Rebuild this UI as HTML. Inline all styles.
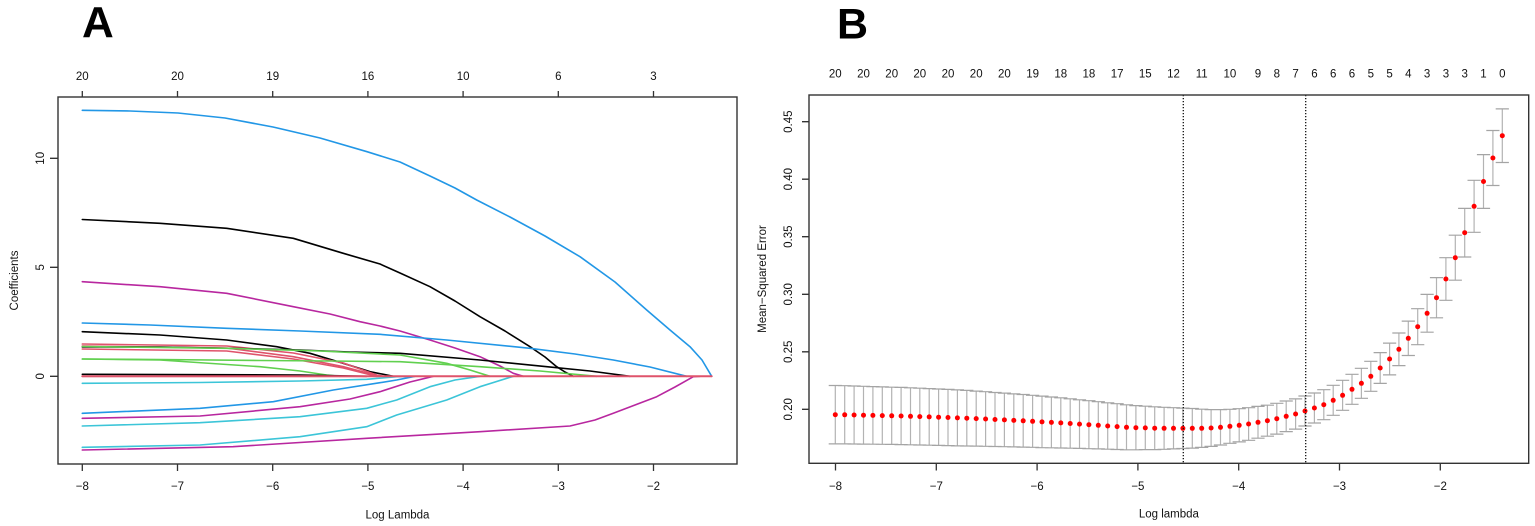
<!DOCTYPE html>
<html><head><meta charset="utf-8"><style>
html,body{margin:0;padding:0;background:#fff;}
svg{display:block;}
text{font-family:"Liberation Sans",Arial,sans-serif;fill:#111;}
</style></head><body>
<svg width="1535" height="526" viewBox="0 0 1535 526" xmlns="http://www.w3.org/2000/svg">
<rect width="1535" height="526" fill="#fff"/>
<!-- Panel letters -->
<text x="82" y="37" font-size="44" font-weight="bold" style="fill:#000">A</text>
<text x="837" y="38.5" font-size="43" font-weight="bold" style="fill:#000">B</text>

<!-- ============ PANEL A ============ -->
<g fill="none" stroke-width="1.6" stroke-linejoin="round" stroke-linecap="round">
<polyline stroke="#2297E6" points="82.3,110.3 130,111 178,113 225,118 273,127 320,138 367,151.7 400,162 430,176 455,188 476.7,200 510,217 545,236 580,256.7 615,282 646.7,310 670,330 690,346.7 702,360 711.7,376.3"/>
<polyline stroke="#000" points="82.3,219.5 160,223.3 226.7,228.3 293.3,238.3 343.3,253.3 380,264 400,273 430,286.7 455,301 480,316.7 505,331 530,346.7 545,357 556.7,366.7 565,372 573.3,376.3"/>
<polyline stroke="#B8279F" points="82.3,281.7 160,286.7 226.7,293.3 293.3,306.7 330,314 360,321.7 380,326 400,331 430,340 455,348 480,356.7 500,366 513.3,373.3 523.3,376.3"/>
<polyline stroke="#2297E6" points="82.3,323 150,325 226.7,328.3 300,331 380,334.3 446.7,340 530,348.3 575,354 613.3,360 650,367 686.7,376.3"/>
<polyline stroke="#000" points="82.3,331.7 160,335 226.7,340 276.7,346.7 310,353.3 343.3,363.3 370,371.7 393.3,376.3"/>
<polyline stroke="#DF536B" points="82.3,344 226.7,346 293.3,353 343.3,363 376.7,375 383,376.3"/>
<polyline stroke="#DF536B" points="82.3,346 226.7,348 293.3,356.7 343.3,366.7 376.7,375.5 383,376.3"/>
<polyline stroke="#000" points="82.3,346.9 160,347 240,348.5 300,350 350,352 400,353.3 480,360 546.7,366.7 590,371 630,376.3"/>
<polyline stroke="#61D04F" points="82.3,346.5 226.7,348.3 320,351 400,355 446.7,363.3 470,370 490,376.3"/>
<polyline stroke="#DF536B" points="82.3,349 226.7,351 293.3,359 343.3,368 376.7,376.3"/>
<polyline stroke="#61D04F" points="82.3,359 160,359.5 260,360.5 330,361 400,361.7 480,366.7 540,371 596.7,376.3"/>
<polyline stroke="#61D04F" points="82.3,359 160,360 260,366.7 300,371 326.7,375 340,376.3"/>
<polyline stroke="#000" points="82.3,374.3 300,375 366.7,376.3"/>
<polyline stroke="#DF536B" points="82.3,376.3 366,376.3"/>
<polyline stroke="#3CC5D8" points="82.3,383.3 200,382.5 300,381 366.7,379.3 396.7,376.7 410,376.3"/>
<polyline stroke="#2297E6" points="82.3,413.3 200,408.3 273.3,401.7 333.3,390 380,382.7 396.7,380 415,376.3"/>
<polyline stroke="#B8279F" points="82.3,418.3 200,416 300,406.7 350,399 380,391.7 410,382 433.3,376.3"/>
<polyline stroke="#3CC5D8" points="82.3,426 200,422.7 300,416.7 366.7,408.3 396.7,400 430,386.7 455,380 480,376.3"/>
<polyline stroke="#3CC5D8" points="82.3,447.3 200,445 300,436.7 366.7,426.7 396.7,415 446.7,400 480,386.7 513.3,376.3"/>
<polyline stroke="#B8279F" points="82.3,450 233,446.7 366.7,438.3 480,431.7 570,426 595,420 613.3,413.3 635,405 656.7,396.7 675,387 693.3,376.7 700,376.3"/>
<line x1="82.3" y1="376.3" x2="711.7" y2="376.3" stroke="#DF536B" stroke-width="2"/>
</g>
<rect x="58" y="97" width="679" height="367" fill="none" stroke="#333" stroke-width="1.4"/>
<!-- A bottom ticks -->
<path d="M82.3 464V471M177.5 464V471M272.7 464V471M367.9 464V471M463.1 464V471M558.3 464V471M653.5 464V471" stroke="#333" stroke-width="1.3"/>
<g font-size="11.5" text-anchor="middle">
<text x="82.3" y="490">−8</text><text x="177.5" y="490">−7</text><text x="272.7" y="490">−6</text><text x="367.9" y="490">−5</text><text x="463.1" y="490">−4</text><text x="558.3" y="490">−3</text><text x="653.5" y="490">−2</text>
<text x="397.5" y="518.5">Log Lambda</text>
</g>
<!-- A top ticks -->
<path d="M82.3 97V91M177.5 97V91M272.7 97V91M367.9 97V91M463.1 97V91M558.3 97V91M653.5 97V91" stroke="#333" stroke-width="1.3"/>
<g font-size="11.5" text-anchor="middle">
<text x="82.3" y="80">20</text><text x="177.5" y="80">20</text><text x="272.7" y="80">19</text><text x="367.9" y="80">16</text><text x="463.1" y="80">10</text><text x="558.3" y="80">6</text><text x="653.5" y="80">3</text>
</g>
<!-- A left ticks -->
<path d="M58 158.3H50M58 267.3H50M58 376.3H50" stroke="#333" stroke-width="1.3"/>
<g font-size="11.5" text-anchor="middle">
<text transform="translate(44,158.3) rotate(-90)">10</text>
<text transform="translate(44,267.3) rotate(-90)">5</text>
<text transform="translate(44,376.3) rotate(-90)">0</text>
<text transform="translate(18,280.5) rotate(-90)">Coefficients</text>
</g>

<!-- ============ PANEL B ============ -->
<!-- error bar verticals -->
<path fill="none" stroke="#b3b3b3" stroke-width="1.2" d="M835.3 385.5V443.9M844.7 385.7V443.9M854.1 386.0V444.0M863.5 386.3V444.1M872.9 386.6V444.2M882.3 386.9V444.3M891.7 387.2V444.4M901.1 387.4V444.6M910.5 387.8V444.8M919.8 388.2V445.0M929.2 388.6V445.2M938.6 389.0V445.4M948.0 389.4V445.6M957.4 389.9V445.9M966.8 390.4V446.0M976.2 391.1V446.1M985.6 391.7V446.3M995.0 392.5V446.5M1004.4 393.1V446.7M1013.8 393.9V446.9M1023.2 394.5V447.1M1032.6 395.3V447.3M1042.0 396.1V447.7M1051.4 397.0V447.8M1060.8 397.8V448.0M1070.2 398.8V448.2M1079.5 399.8V448.4M1088.9 400.7V448.7M1098.3 401.7V448.9M1107.7 402.8V449.2M1117.1 403.7V449.5M1126.5 404.8V449.8M1135.9 405.6V449.8M1145.3 406.2V449.6M1154.7 406.8V449.6M1164.1 407.3V449.3M1173.5 407.7V448.9M1182.9 408.1V448.5M1192.3 408.5V448.1M1201.7 409.2V447.4M1211.1 409.6V446.4M1220.5 409.6V445.0M1229.9 409.3V443.3M1239.2 408.7V441.9M1248.6 407.7V440.3M1258.0 406.4V438.2M1267.4 405.2V436.2M1276.8 403.3V434.1M1286.2 401.0V431.6M1295.6 398.9V429.1M1305.0 396.0V426.0M1314.4 393.0V423.0M1323.8 389.7V419.7M1333.2 385.3V415.3M1342.6 380.3V410.3M1352.0 374.3V404.3M1361.4 368.3V398.3M1370.8 361.3V391.3M1380.2 352.6V383.4M1389.6 343.1V374.9M1398.9 333.0V365.6M1408.3 321.1V355.5M1417.7 308.7V344.7M1427.1 294.4V332.2M1436.5 277.6V317.8M1445.9 257.7V300.3M1455.3 235.2V280.2M1464.7 208.4V257.0M1474.1 180.3V232.3M1483.5 154.6V208.4M1492.9 130.5V185.5M1502.3 108.9V162.5"/>
<!-- caps -->
<path fill="none" stroke="#a4a4a4" stroke-width="1.2" d="M828.7 385.5h13.2M828.7 443.9h13.2M838.1 385.7h13.2M838.1 443.9h13.2M847.5 386.0h13.2M847.5 444.0h13.2M856.9 386.3h13.2M856.9 444.1h13.2M866.3 386.6h13.2M866.3 444.2h13.2M875.7 386.9h13.2M875.7 444.3h13.2M885.1 387.2h13.2M885.1 444.4h13.2M894.5 387.4h13.2M894.5 444.6h13.2M903.9 387.8h13.2M903.9 444.8h13.2M913.2 388.2h13.2M913.2 445.0h13.2M922.6 388.6h13.2M922.6 445.2h13.2M932.0 389.0h13.2M932.0 445.4h13.2M941.4 389.4h13.2M941.4 445.6h13.2M950.8 389.9h13.2M950.8 445.9h13.2M960.2 390.4h13.2M960.2 446.0h13.2M969.6 391.1h13.2M969.6 446.1h13.2M979.0 391.7h13.2M979.0 446.3h13.2M988.4 392.5h13.2M988.4 446.5h13.2M997.8 393.1h13.2M997.8 446.7h13.2M1007.2 393.9h13.2M1007.2 446.9h13.2M1016.6 394.5h13.2M1016.6 447.1h13.2M1026.0 395.3h13.2M1026.0 447.3h13.2M1035.4 396.1h13.2M1035.4 447.7h13.2M1044.8 397.0h13.2M1044.8 447.8h13.2M1054.2 397.8h13.2M1054.2 448.0h13.2M1063.6 398.8h13.2M1063.6 448.2h13.2M1072.9 399.8h13.2M1072.9 448.4h13.2M1082.3 400.7h13.2M1082.3 448.7h13.2M1091.7 401.7h13.2M1091.7 448.9h13.2M1101.1 402.8h13.2M1101.1 449.2h13.2M1110.5 403.7h13.2M1110.5 449.5h13.2M1119.9 404.8h13.2M1119.9 449.8h13.2M1129.3 405.6h13.2M1129.3 449.8h13.2M1138.7 406.2h13.2M1138.7 449.6h13.2M1148.1 406.8h13.2M1148.1 449.6h13.2M1157.5 407.3h13.2M1157.5 449.3h13.2M1166.9 407.7h13.2M1166.9 448.9h13.2M1176.3 408.1h13.2M1176.3 448.5h13.2M1185.7 408.5h13.2M1185.7 448.1h13.2M1195.1 409.2h13.2M1195.1 447.4h13.2M1204.5 409.6h13.2M1204.5 446.4h13.2M1213.9 409.6h13.2M1213.9 445.0h13.2M1223.3 409.3h13.2M1223.3 443.3h13.2M1232.6 408.7h13.2M1232.6 441.9h13.2M1242.0 407.7h13.2M1242.0 440.3h13.2M1251.4 406.4h13.2M1251.4 438.2h13.2M1260.8 405.2h13.2M1260.8 436.2h13.2M1270.2 403.3h13.2M1270.2 434.1h13.2M1279.6 401.0h13.2M1279.6 431.6h13.2M1289.0 398.9h13.2M1289.0 429.1h13.2M1298.4 396.0h13.2M1298.4 426.0h13.2M1307.8 393.0h13.2M1307.8 423.0h13.2M1317.2 389.7h13.2M1317.2 419.7h13.2M1326.6 385.3h13.2M1326.6 415.3h13.2M1336.0 380.3h13.2M1336.0 410.3h13.2M1345.4 374.3h13.2M1345.4 404.3h13.2M1354.8 368.3h13.2M1354.8 398.3h13.2M1364.2 361.3h13.2M1364.2 391.3h13.2M1373.6 352.6h13.2M1373.6 383.4h13.2M1383.0 343.1h13.2M1383.0 374.9h13.2M1392.3 333.0h13.2M1392.3 365.6h13.2M1401.7 321.1h13.2M1401.7 355.5h13.2M1411.1 308.7h13.2M1411.1 344.7h13.2M1420.5 294.4h13.2M1420.5 332.2h13.2M1429.9 277.6h13.2M1429.9 317.8h13.2M1439.3 257.7h13.2M1439.3 300.3h13.2M1448.7 235.2h13.2M1448.7 280.2h13.2M1458.1 208.4h13.2M1458.1 257.0h13.2M1467.5 180.3h13.2M1467.5 232.3h13.2M1476.9 154.6h13.2M1476.9 208.4h13.2M1486.3 130.5h13.2M1486.3 185.5h13.2M1495.7 108.9h13.2M1495.7 162.5h13.2"/>
<!-- dots -->
<g fill="#f00">
<circle cx="835.3" cy="414.7" r="2.5"/><circle cx="844.7" cy="414.8" r="2.5"/><circle cx="854.1" cy="415.0" r="2.5"/><circle cx="863.5" cy="415.2" r="2.5"/><circle cx="872.9" cy="415.4" r="2.5"/><circle cx="882.3" cy="415.6" r="2.5"/><circle cx="891.7" cy="415.8" r="2.5"/><circle cx="901.1" cy="416.0" r="2.5"/><circle cx="910.5" cy="416.3" r="2.5"/><circle cx="919.8" cy="416.6" r="2.5"/><circle cx="929.2" cy="416.9" r="2.5"/><circle cx="938.6" cy="417.2" r="2.5"/><circle cx="948.0" cy="417.5" r="2.5"/><circle cx="957.4" cy="417.9" r="2.5"/><circle cx="966.8" cy="418.2" r="2.5"/><circle cx="976.2" cy="418.6" r="2.5"/><circle cx="985.6" cy="419.0" r="2.5"/><circle cx="995.0" cy="419.5" r="2.5"/><circle cx="1004.4" cy="419.9" r="2.5"/><circle cx="1013.8" cy="420.4" r="2.5"/><circle cx="1023.2" cy="420.8" r="2.5"/><circle cx="1032.6" cy="421.3" r="2.5"/><circle cx="1042.0" cy="421.9" r="2.5"/><circle cx="1051.4" cy="422.4" r="2.5"/><circle cx="1060.8" cy="422.9" r="2.5"/><circle cx="1070.2" cy="423.5" r="2.5"/><circle cx="1079.5" cy="424.1" r="2.5"/><circle cx="1088.9" cy="424.7" r="2.5"/><circle cx="1098.3" cy="425.3" r="2.5"/><circle cx="1107.7" cy="426.0" r="2.5"/><circle cx="1117.1" cy="426.6" r="2.5"/><circle cx="1126.5" cy="427.3" r="2.5"/><circle cx="1135.9" cy="427.7" r="2.5"/><circle cx="1145.3" cy="427.9" r="2.5"/><circle cx="1154.7" cy="428.2" r="2.5"/><circle cx="1164.1" cy="428.3" r="2.5"/><circle cx="1173.5" cy="428.3" r="2.5"/><circle cx="1182.9" cy="428.3" r="2.5"/><circle cx="1192.3" cy="428.3" r="2.5"/><circle cx="1201.7" cy="428.3" r="2.5"/><circle cx="1211.1" cy="428.0" r="2.5"/><circle cx="1220.5" cy="427.3" r="2.5"/><circle cx="1229.9" cy="426.3" r="2.5"/><circle cx="1239.2" cy="425.3" r="2.5"/><circle cx="1248.6" cy="424.0" r="2.5"/><circle cx="1258.0" cy="422.3" r="2.5"/><circle cx="1267.4" cy="420.7" r="2.5"/><circle cx="1276.8" cy="418.7" r="2.5"/><circle cx="1286.2" cy="416.3" r="2.5"/><circle cx="1295.6" cy="414.0" r="2.5"/><circle cx="1305.0" cy="411.0" r="2.5"/><circle cx="1314.4" cy="408.0" r="2.5"/><circle cx="1323.8" cy="404.7" r="2.5"/><circle cx="1333.2" cy="400.3" r="2.5"/><circle cx="1342.6" cy="395.3" r="2.5"/><circle cx="1352.0" cy="389.3" r="2.5"/><circle cx="1361.4" cy="383.3" r="2.5"/><circle cx="1370.8" cy="376.3" r="2.5"/><circle cx="1380.2" cy="368.0" r="2.5"/><circle cx="1389.6" cy="359.0" r="2.5"/><circle cx="1398.9" cy="349.3" r="2.5"/><circle cx="1408.3" cy="338.3" r="2.5"/><circle cx="1417.7" cy="326.7" r="2.5"/><circle cx="1427.1" cy="313.3" r="2.5"/><circle cx="1436.5" cy="297.7" r="2.5"/><circle cx="1445.9" cy="279.0" r="2.5"/><circle cx="1455.3" cy="257.7" r="2.5"/><circle cx="1464.7" cy="232.7" r="2.5"/><circle cx="1474.1" cy="206.3" r="2.5"/><circle cx="1483.5" cy="181.5" r="2.5"/><circle cx="1492.9" cy="158.0" r="2.5"/><circle cx="1502.3" cy="135.7" r="2.5"/>
</g>
<!-- dotted vertical lines -->
<line x1="1183.3" y1="95" x2="1183.3" y2="463.3" stroke="#111" stroke-width="1.3" stroke-dasharray="1.3 1.7"/>
<line x1="1305.7" y1="95" x2="1305.7" y2="463.3" stroke="#111" stroke-width="1.3" stroke-dasharray="1.3 1.7"/>
<rect x="809" y="95" width="719.7" height="368.3" fill="none" stroke="#333" stroke-width="1.4"/>
<!-- B bottom ticks -->
<path d="M835.5 463.3V470.5M936.3 463.3V470.5M1037.1 463.3V470.5M1137.9 463.3V470.5M1238.7 463.3V470.5M1339.5 463.3V470.5M1440.3 463.3V470.5" stroke="#333" stroke-width="1.3"/>
<g font-size="11.5" text-anchor="middle">
<text x="835.5" y="490">−8</text><text x="936.3" y="490">−7</text><text x="1037.1" y="490">−6</text><text x="1137.9" y="490">−5</text><text x="1238.7" y="490">−4</text><text x="1339.5" y="490">−3</text><text x="1440.3" y="490">−2</text>
<text x="1168.9" y="517.5">Log lambda</text>
</g>
<!-- B top labels -->
<g font-size="11.5" text-anchor="middle">
<text x="835.3" y="77.5">20</text><text x="863.5" y="77.5">20</text><text x="891.7" y="77.5">20</text><text x="919.8" y="77.5">20</text><text x="948.0" y="77.5">20</text><text x="976.2" y="77.5">20</text><text x="1004.4" y="77.5">20</text><text x="1032.6" y="77.5">19</text><text x="1060.8" y="77.5">18</text><text x="1088.9" y="77.5">18</text><text x="1117.1" y="77.5">17</text><text x="1145.3" y="77.5">15</text><text x="1173.5" y="77.5">12</text><text x="1201.7" y="77.5">11</text><text x="1229.9" y="77.5">10</text><text x="1258.0" y="77.5">9</text><text x="1276.8" y="77.5">8</text><text x="1295.6" y="77.5">7</text><text x="1314.4" y="77.5">6</text><text x="1333.2" y="77.5">6</text><text x="1352.0" y="77.5">6</text><text x="1370.8" y="77.5">5</text><text x="1389.6" y="77.5">5</text><text x="1408.3" y="77.5">4</text><text x="1427.1" y="77.5">3</text><text x="1445.9" y="77.5">3</text><text x="1464.7" y="77.5">3</text><text x="1483.5" y="77.5">1</text><text x="1502.3" y="77.5">0</text>
</g>
<!-- B left ticks -->
<path d="M809 409.3H802M809 351.8H802M809 294.3H802M809 236.7H802M809 179.2H802M809 121.7H802" stroke="#333" stroke-width="1.3"/>
<g font-size="11.5" text-anchor="middle">
<text transform="translate(792,409.3) rotate(-90)">0.20</text>
<text transform="translate(792,351.8) rotate(-90)">0.25</text>
<text transform="translate(792,294.3) rotate(-90)">0.30</text>
<text transform="translate(792,236.7) rotate(-90)">0.35</text>
<text transform="translate(792,179.2) rotate(-90)">0.40</text>
<text transform="translate(792,121.7) rotate(-90)">0.45</text>
<text transform="translate(766,279) rotate(-90)">Mean−Squared Error</text>
</g>
</svg>
</body></html>
